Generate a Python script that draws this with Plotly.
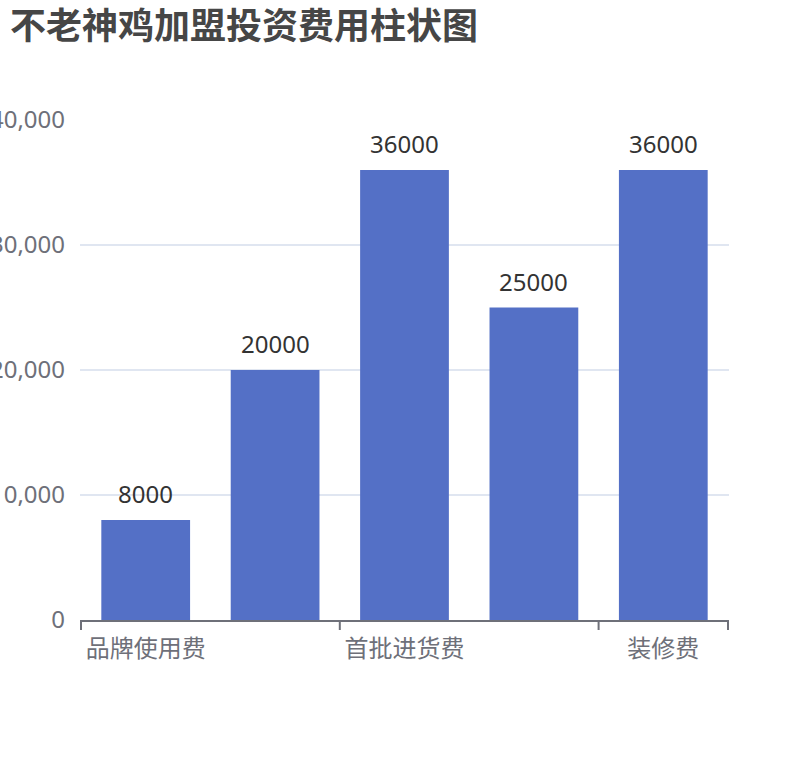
import plotly.graph_objects as go

# 费用项目与金额（元）
categories = ["品牌使用费", "加盟费", "首批进货费", "设备费", "装修费"]
values = [8000, 20000, 36000, 25000, 36000]
y_ticks = [0, 10000, 20000, 30000, 40000]

font_cjk = "Noto Sans CJK SC, Noto Sans, sans-serif"
font_num = "Noto Sans, Noto Sans CJK SC, sans-serif"
axis_color = "#6e7079"

fig = go.Figure()

fig.add_trace(go.Bar(
    x=categories,
    y=values,
    marker=dict(color="#5470c6", line=dict(width=0)),
    hoverinfo="x+y",
    showlegend=False,
))

# value labels above bars
for c, v in zip(categories, values):
    fig.add_annotation(
        x=c, y=v, text=str(v), showarrow=False,
        xref="x", yref="y", yanchor="bottom", yshift=8,
        font=dict(size=24, color="#333333", family=font_num),
    )

# tick marks on category boundaries, every other category (like echarts interval)
n = len(categories)
bounds = [i - 0.5 for i in range(0, n, 2)] + [n - 0.5]
for b in bounds:
    fig.add_shape(
        type="line", xref="x", yref="paper",
        x0=b, x1=b, y0=0, y1=-0.02,
        line=dict(color=axis_color, width=2),
    )

fig.update_layout(
    width=810,
    height=760,
    margin=dict(l=80, r=81, t=120, b=140),
    plot_bgcolor="white",
    paper_bgcolor="white",
    bargap=0.314,
    title=dict(
        text="<b>不老神鸡加盟投资费用柱状图</b>",
        x=10 / 810, xref="container", xanchor="left",
        y=1 - 26 / 760, yref="container", yanchor="middle",
        font=dict(size=36, color="#464646", family=font_cjk),
    ),
    xaxis=dict(
        tickvals=categories[::2],
        ticks="",
        showline=True,
        linecolor=axis_color,
        linewidth=2,
        showgrid=False,
        tickfont=dict(size=24, color=axis_color, family=font_cjk),
        ticklabelstandoff=6,
        automargin=False,
    ),
    yaxis=dict(
        range=[0, 40000],
        tickvals=y_ticks,
        tickformat=",",
        showgrid=True,
        gridcolor="#e0e6f1",
        gridwidth=2,
        zeroline=False,
        showline=False,
        ticks="",
        ticklabelstandoff=14,
        tickfont=dict(size=24, color=axis_color, family=font_num),
        automargin=False,
    ),
)

# drop the default page margin so the figure sits at the window's corner
fig.write_html(
    "out.html",
    config={"displayModeBar": False},
    post_script="document.body.style.margin = '0';",
)
